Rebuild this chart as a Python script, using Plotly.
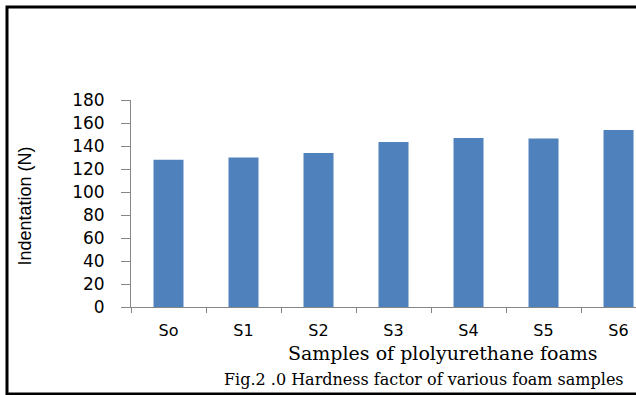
import plotly.graph_objects as go

# Foam samples and their measured indentation hardness (N)
samples = ["So", "S1", "S2", "S3", "S4", "S5", "S6"]
indentation = [128, 130, 134, 143.5, 147, 146.5, 154]
y_ticks = [0, 20, 40, 60, 80, 100, 120, 140, 160, 180]

BAR_BLUE = "#4F81BD"
AXIS_GREY = "#868686"

fig = go.Figure(
    go.Bar(
        x=samples,
        y=indentation,
        marker=dict(color=BAR_BLUE, line=dict(width=0)),
    )
)

fig.update_layout(
    width=636,
    height=395,
    margin=dict(l=131, r=0, t=100, b=88),
    paper_bgcolor="white",
    plot_bgcolor="white",
    bargap=0.6,
    showlegend=False,
    xaxis=dict(
        type="category",
        range=[-0.5, 6.233],
        tickson="boundaries",
        ticks="outside",
        ticklen=5,
        tickcolor=AXIS_GREY,
        showline=True,
        linecolor=AXIS_GREY,
        linewidth=1,
        showgrid=False,
        zeroline=False,
        ticklabelstandoff=9,
        tickfont=dict(family="DejaVu Sans", size=16, color="black"),
    ),
    yaxis=dict(
        range=[0, 180],
        tickvals=y_ticks,
        ticks="outside",
        ticklen=9,
        tickcolor=AXIS_GREY,
        showline=True,
        linecolor=AXIS_GREY,
        linewidth=1,
        showgrid=False,
        zeroline=False,
        ticklabelstandoff=13,
        tickfont=dict(family="DejaVu Sans", size=17, color="black"),
    ),
    annotations=[
        dict(
            text="Indentation (N)",
            textangle=-90,
            xref="paper", yref="paper",
            x=-0.21, y=0.49,
            xanchor="center", yanchor="middle",
            showarrow=False,
            font=dict(family="Liberation Sans", size=18, color="black"),
        ),
        dict(
            text="Samples of plolyurethane foams",
            xref="paper", yref="paper",
            x=0.616, y=-0.22,
            xanchor="center", yanchor="middle",
            showarrow=False,
            font=dict(family="DejaVu Serif", size=19, color="black"),
        ),
        dict(
            text="Fig.2 .0 Hardness factor of various foam samples",
            xref="paper", yref="paper",
            x=0.18, y=-0.35,
            xanchor="left", yanchor="middle",
            showarrow=False,
            font=dict(family="DejaVu Serif", size=16, color="black"),
        ),
    ],
    shapes=[
        # frame around the figure
        dict(
            type="rect",
            xref="paper", yref="paper",
            xsizemode="pixel", ysizemode="pixel",
            xanchor=0, yanchor=0,
            x0=-124, x1=520, y0=-87, y1=300,
            line=dict(color="black", width=3),
            fillcolor="rgba(0,0,0,0)",
            layer="below",
        )
    ],
)

fig.write_html("out.html")
